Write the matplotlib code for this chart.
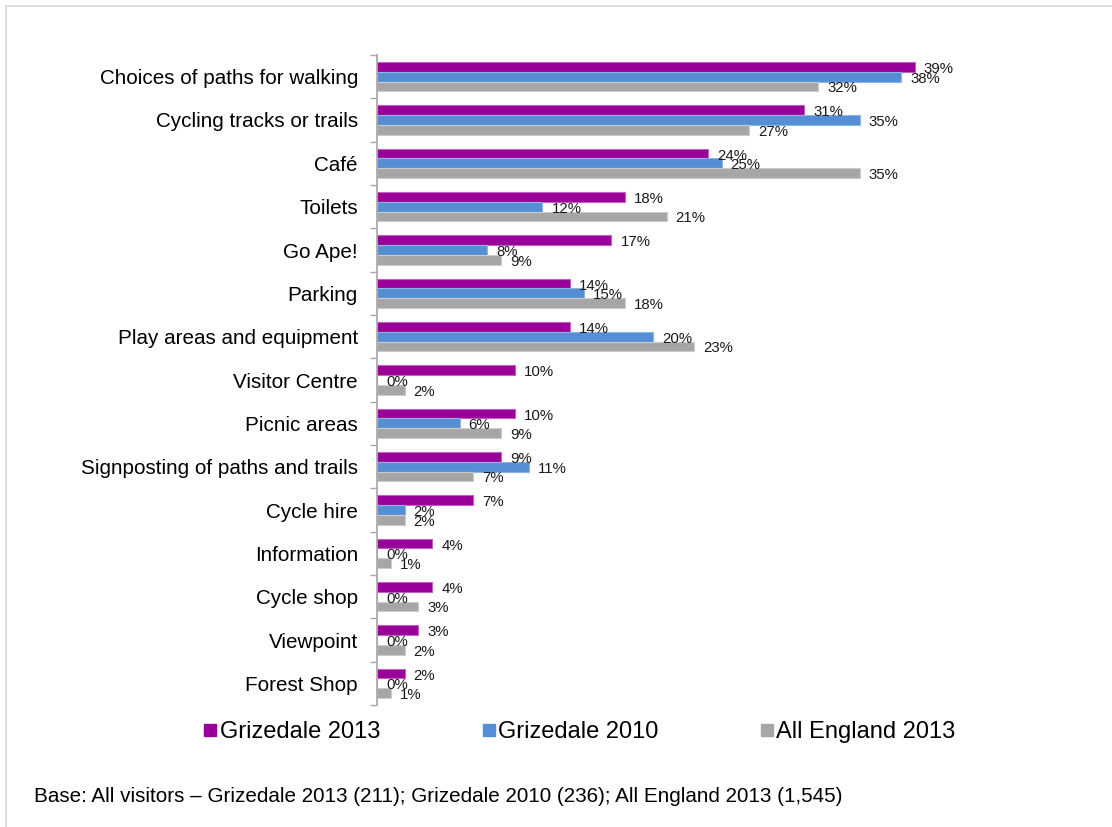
import numpy as np
import matplotlib.pyplot as plt
from matplotlib.patches import Rectangle
from matplotlib.lines import Line2D

plt.rcParams['font.family'] = ['Liberation Sans', 'DejaVu Sans']

categories = ["Choices of paths for walking", "Cycling tracks or trails", "Café",
              "Toilets", "Go Ape!", "Parking", "Play areas and equipment",
              "Visitor Centre", "Picnic areas", "Signposting of paths and trails",
              "Cycle hire", "Information", "Cycle shop", "Viewpoint", "Forest Shop"]
griz_2013 = [39, 31, 24, 18, 17, 14, 14, 10, 10, 9, 7, 4, 4, 3, 2]
griz_2010 = [38, 35, 25, 12, 8, 15, 20, 0, 6, 11, 2, 0, 0, 0, 0]
england_2013 = [32, 27, 35, 21, 9, 18, 23, 2, 9, 7, 2, 1, 3, 2, 1]

series = [("Grizedale 2013", griz_2013, "#990099", "#C060C0"),
          ("Grizedale 2010", griz_2010, "#558ED5", "#8DB4E2"),
          ("All England 2013", england_2013, "#A6A6A6", "#CCCCCC")]

fig = plt.figure(figsize=(11.12, 8.27), dpi=100)
# light frame round the whole chart area
fig.patches.append(Rectangle((6/1112, -0.01), 1.02, 1 - 6/827 + 0.01, transform=fig.transFigure,
                             fill=False, edgecolor="#D9D9D9", lw=1.2))

ax = fig.add_axes([0.339, 0.1475, 0.496, 0.786])
y = np.arange(len(categories))
h = 0.224
for k, (name, vals, col, edge) in enumerate(series):
    pos = y + (k - 1) * h
    ax.barh(pos, vals, height=h, color=col, edgecolor=edge, lw=0.8)
    for p, v in zip(pos, vals):
        ax.annotate("{}%".format(v), (v, p), xytext=(6.5, -1.5), textcoords="offset points",
                    va="center", ha="left", fontsize=10.8, color="#1a1a1a")

ax.set_xlim(0, 40)
ax.set_ylim(len(categories) - 0.5, -0.5)
ax.set_yticks(y)
ax.set_yticklabels(categories, fontsize=14.9)
ax.set_yticks(np.arange(len(categories) + 1) - 0.5, minor=True)
ax.tick_params(axis="y", which="major", length=0, pad=13.7)
ax.tick_params(axis="y", which="minor", length=5, color="#A6A6A6", width=1)
ax.set_xticks([])
for s in ["top", "right", "bottom"]:
    ax.spines[s].set_visible(False)
ax.spines["left"].set_color("#A6A6A6")
ax.spines["left"].set_linewidth(1.2)

handles = [Line2D([], [], marker="s", ls="none", color=col, markersize=8.6) for _, _, col, _ in series]
fig.legend(handles, [s[0] for s in series], loc="center", bbox_to_anchor=(0.521, 1 - 732/827),
           ncol=3, frameon=False, fontsize=17, handletextpad=0.1, columnspacing=4.3,
           handlelength=0.6)

fig.text(34/1112, 1 - 796/827, "Base: All visitors \u2013 Grizedale 2013 (211); Grizedale 2010 (236); All England 2013 (1,545)",
         fontsize=14.9, va="center", ha="left")

fig.savefig("out.png", dpi=100)
